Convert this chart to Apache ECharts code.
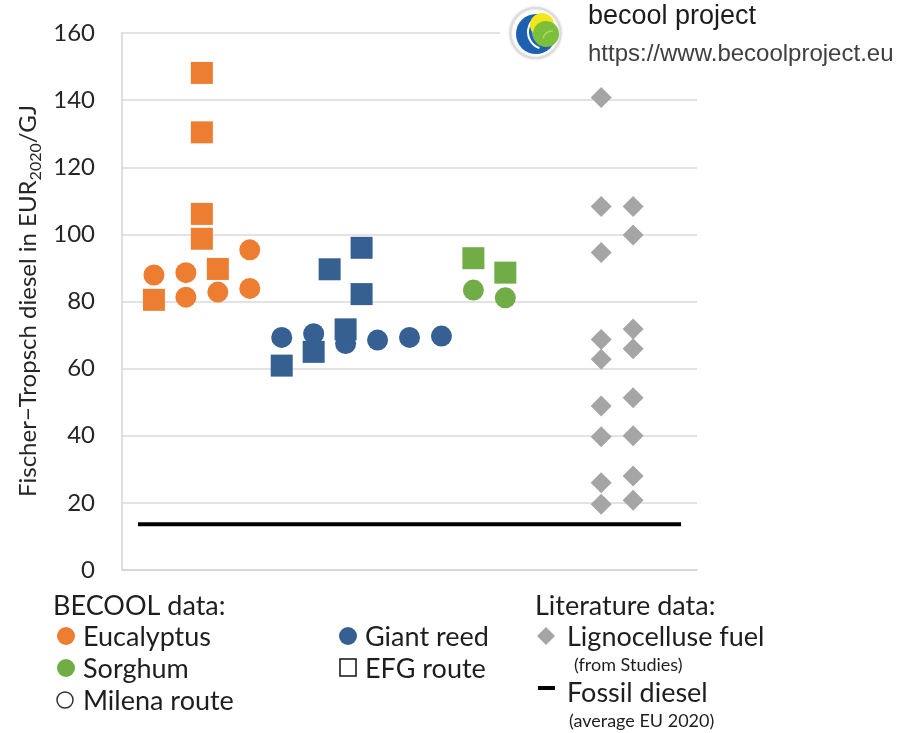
<!DOCTYPE html>
<html>
<head>
<meta charset="utf-8">
<script src="https://cdn.jsdelivr.net/npm/echarts@6/dist/echarts.min.js"></script>
<style>
html,body{margin:0;padding:0;background:#fff;}
#main{width:906px;height:733px;}
</style>
</head>
<body>
<div id="main"></div>
<script>
// ---- data (x = slot position along the hidden horizontal axis, y = EUR2020/GJ) ----
const yTicks = [0, 20, 40, 60, 80, 100, 120, 140, 160];

const eucalyptusEfgX = [2, 5, 5, 5, 5, 6];
const eucalyptusEfgY = [80.5, 148.1, 130.4, 106.1, 98.7, 89.7];
const eucalyptusMilenaX = [2, 4, 4, 6, 8, 8];
const eucalyptusMilenaY = [87.9, 88.6, 81.3, 82.8, 95.4, 83.9];

const giantReedEfgX = [10, 12, 13, 14, 15, 15];
const giantReedEfgY = [60.9, 65.0, 89.6, 71.7, 96.0, 82.2];
const giantReedMilenaX = [10, 12, 14, 16, 18, 20];
const giantReedMilenaY = [69.3, 70.4, 67.5, 68.5, 69.3, 69.7];

const sorghumEfgX = [22, 24];
const sorghumEfgY = [92.9, 88.6];
const sorghumMilenaX = [22, 24];
const sorghumMilenaY = [83.4, 81.1];

const literatureX = [30, 30, 30, 30, 30, 30, 30, 30, 30, 32, 32, 32, 32, 32, 32, 32, 32];
const literatureY = [140.8, 108.3, 94.6, 68.7, 62.8, 48.9, 39.7, 26.0, 19.6,
                     108.3, 99.8, 71.8, 65.9, 51.3, 40.0, 28.0, 20.8];

const fossilX = [1, 35];
const fossilY = [13.6, 13.6];

const titleMain = 'Fischer\u2212Tropsch diesel in EUR';
const titleSub = '2020';
const titleEnd = '/GJ';

// ---- styles ----
const ORANGE = '#ED7D31', BLUE = '#365F92', GREEN = '#70AD47', GREY = '#A5A5A5';
const FONT = 'Lato';
const TXT = '#1e1e1e';

function pts(xs, ys) { return xs.map((x, i) => [x, ys[i]]); }

const chart = echarts.init(document.getElementById('main'), null, {renderer: 'canvas'});

function scatter(name, xs, ys, symbol, size, color) {
  return {
    name, type: 'scatter', data: pts(xs, ys), symbol, symbolSize: size,
    itemStyle: {color, opacity: 1}, z: 3, silent: true
  };
}

const legendItems = [];
function legText(x, y, text, size) {
  legendItems.push({type: 'text', x: x, y: y, style: {
    text, fill: TXT, font: size + 'px ' + FONT, align: 'left', verticalAlign: 'middle',
    textAlign: 'left', textVerticalAlign: 'middle'
  }});
}
// BECOOL legend
legText(53, 606, 'BECOOL data:', 27);
legendItems.push({type: 'circle', shape: {cx: 66, cy: 636, r: 9}, style: {fill: ORANGE}});
legText(83, 637, 'Eucalyptus', 27);
legendItems.push({type: 'circle', shape: {cx: 66, cy: 668, r: 9}, style: {fill: GREEN}});
legText(83, 669, 'Sorghum', 27);
legendItems.push({type: 'circle', shape: {cx: 65, cy: 700, r: 8}, style: {fill: '#fff', stroke: '#333', lineWidth: 1.5}});
legText(83, 701, 'Milena route', 27);
legendItems.push({type: 'circle', shape: {cx: 348, cy: 636, r: 9}, style: {fill: BLUE}});
legText(365, 637, 'Giant reed', 27);
legendItems.push({type: 'rect', shape: {x: 340, y: 659, width: 16, height: 17}, style: {fill: '#fff', stroke: '#111', lineWidth: 1.5}});
legText(365, 669, 'EFG route', 27);
// Literature legend
legText(535, 606, 'Literature data:', 27);
legendItems.push({type: 'polygon', shape: {points: [[546, 627], [555, 636], [546, 645], [537, 636]]}, style: {fill: GREY}});
legText(567, 637, 'Lignocelluse fuel', 27);
legText(574, 665, '(from Studies)', 18);
legendItems.push({type: 'rect', shape: {x: 538, y: 686, width: 17, height: 4}, style: {fill: '#000'}});
legText(567, 693, 'Fossil diesel', 27);
legText(569, 721, '(average EU 2020)', 18);

// y-axis title with subscript, measured so the pieces join up
const mctx = document.createElement('canvas').getContext('2d');
function textW(t, f) { mctx.font = f; return mctx.measureText(t).width; }
const fMain = '24px ' + FONT, fSub = '16px ' + FONT;
const w1 = textW(titleMain, fMain), w2 = textW(titleSub, fSub), w3 = textW(titleEnd, fMain);
const W = w1 + w2 + w3;
function tpiece(x, y, text, font) {
  return {type: 'text', x, y, style: {text, font, fill: '#262626', align: 'left', verticalAlign: 'middle',
    textAlign: 'left', textVerticalAlign: 'middle'}};
}
const yTitle = {
  type: 'group', x: 28, y: 301, rotation: Math.PI / 2,
  children: [
    tpiece(-W / 2, 0, titleMain, fMain),
    tpiece(-W / 2 + w1, 8, titleSub, fSub),
    tpiece(-W / 2 + w1 + w2, 0, titleEnd, fMain)
  ]
};

// header / logo
const header = [
  {type: 'rect', shape: {x: 500, y: 0, width: 406, height: 68}, style: {fill: '#fff'}, z: 10},
  {type: 'circle', shape: {cx: 535.5, cy: 33, r: 25}, style: {fill: '#fff', stroke: '#dcdcdc', lineWidth: 2, shadowBlur: 3, shadowColor: 'rgba(0,0,0,0.15)'}, z: 11},
  {type: 'circle', shape: {cx: 536, cy: 34, r: 20}, style: {fill: '#1d5fb0'}, z: 12},
  {type: 'arc', shape: {cx: 545, cy: 32, r: 17, startAngle: 1.9, endAngle: 3.9}, style: {stroke: '#ffffff', lineWidth: 2, fill: null}, z: 13},
  {type: 'arc', shape: {cx: 545, cy: 32, r: 12, startAngle: 1.9, endAngle: 3.9}, style: {stroke: '#3fa9e0', lineWidth: 2.5, fill: null}, z: 13},
  {type: 'circle', shape: {cx: 542, cy: 25, r: 12}, style: {fill: '#f3e61a'}, z: 13},
  {type: 'circle', shape: {cx: 546, cy: 34, r: 13}, style: {fill: '#7cbf3a'}, z: 14},
  {type: 'arc', shape: {cx: 552, cy: 40, r: 9, startAngle: 3.3, endAngle: 4.8}, style: {stroke: '#a8d86a', lineWidth: 1.5, fill: null}, z: 15},
  {type: 'text', left: 588, top: 3, style: {text: 'becool project', fill: '#1c1c1c', font: '27px "Liberation Sans", Arial, sans-serif'}, z: 12},
  {type: 'text', left: 588, top: 42, style: {text: 'https://www.becoolproject.eu', fill: '#404040', font: '24px "Liberation Sans", Arial, sans-serif'}, z: 12}
];

const option = {
  animation: false,
  backgroundColor: '#fff',
  grid: {left: 122, right: 209, top: 33, bottom: 163, containLabel: false},
  xAxis: {
    type: 'value', min: 0, max: 36,
    axisLine: {show: true, onZero: false, lineStyle: {color: '#d4d4d4', width: 1.5}},
    axisTick: {show: false}, axisLabel: {show: false}, splitLine: {show: false}
  },
  yAxis: {
    type: 'value', min: yTicks[0], max: yTicks[yTicks.length - 1], interval: 20,
    axisLine: {show: true, lineStyle: {color: '#d4d4d4', width: 1.5}},
    axisTick: {show: false},
    axisLabel: {margin: 27, color: '#262626', fontFamily: FONT, fontSize: 24,
      formatter: v => yTicks.includes(v) ? String(v) : ''},
    splitLine: {show: true, lineStyle: {color: '#dadada', width: 1.5}}
  },
  series: [
    {
      name: 'Fossil diesel', type: 'line', data: pts(fossilX, fossilY), symbol: 'none',
      lineStyle: {color: '#000', width: 4}, z: 2, silent: true
    },
    scatter('Eucalyptus EFG', eucalyptusEfgX, eucalyptusEfgY, 'rect', 22, ORANGE),
    scatter('Eucalyptus Milena', eucalyptusMilenaX, eucalyptusMilenaY, 'circle', 21, ORANGE),
    scatter('Giant reed Milena', giantReedMilenaX, giantReedMilenaY, 'circle', 21, BLUE),
    scatter('Giant reed EFG', giantReedEfgX, giantReedEfgY, 'rect', 22, BLUE),
    scatter('Sorghum EFG', sorghumEfgX, sorghumEfgY, 'rect', 22, GREEN),
    scatter('Sorghum Milena', sorghumMilenaX, sorghumMilenaY, 'circle', 21, GREEN),
    scatter('Lignocelluse fuel', literatureX, literatureY, 'diamond', [21, 21], GREY)
  ],
  graphic: header.concat(legendItems, [yTitle])
};
chart.setOption(option);
</script>
</body>
</html>
